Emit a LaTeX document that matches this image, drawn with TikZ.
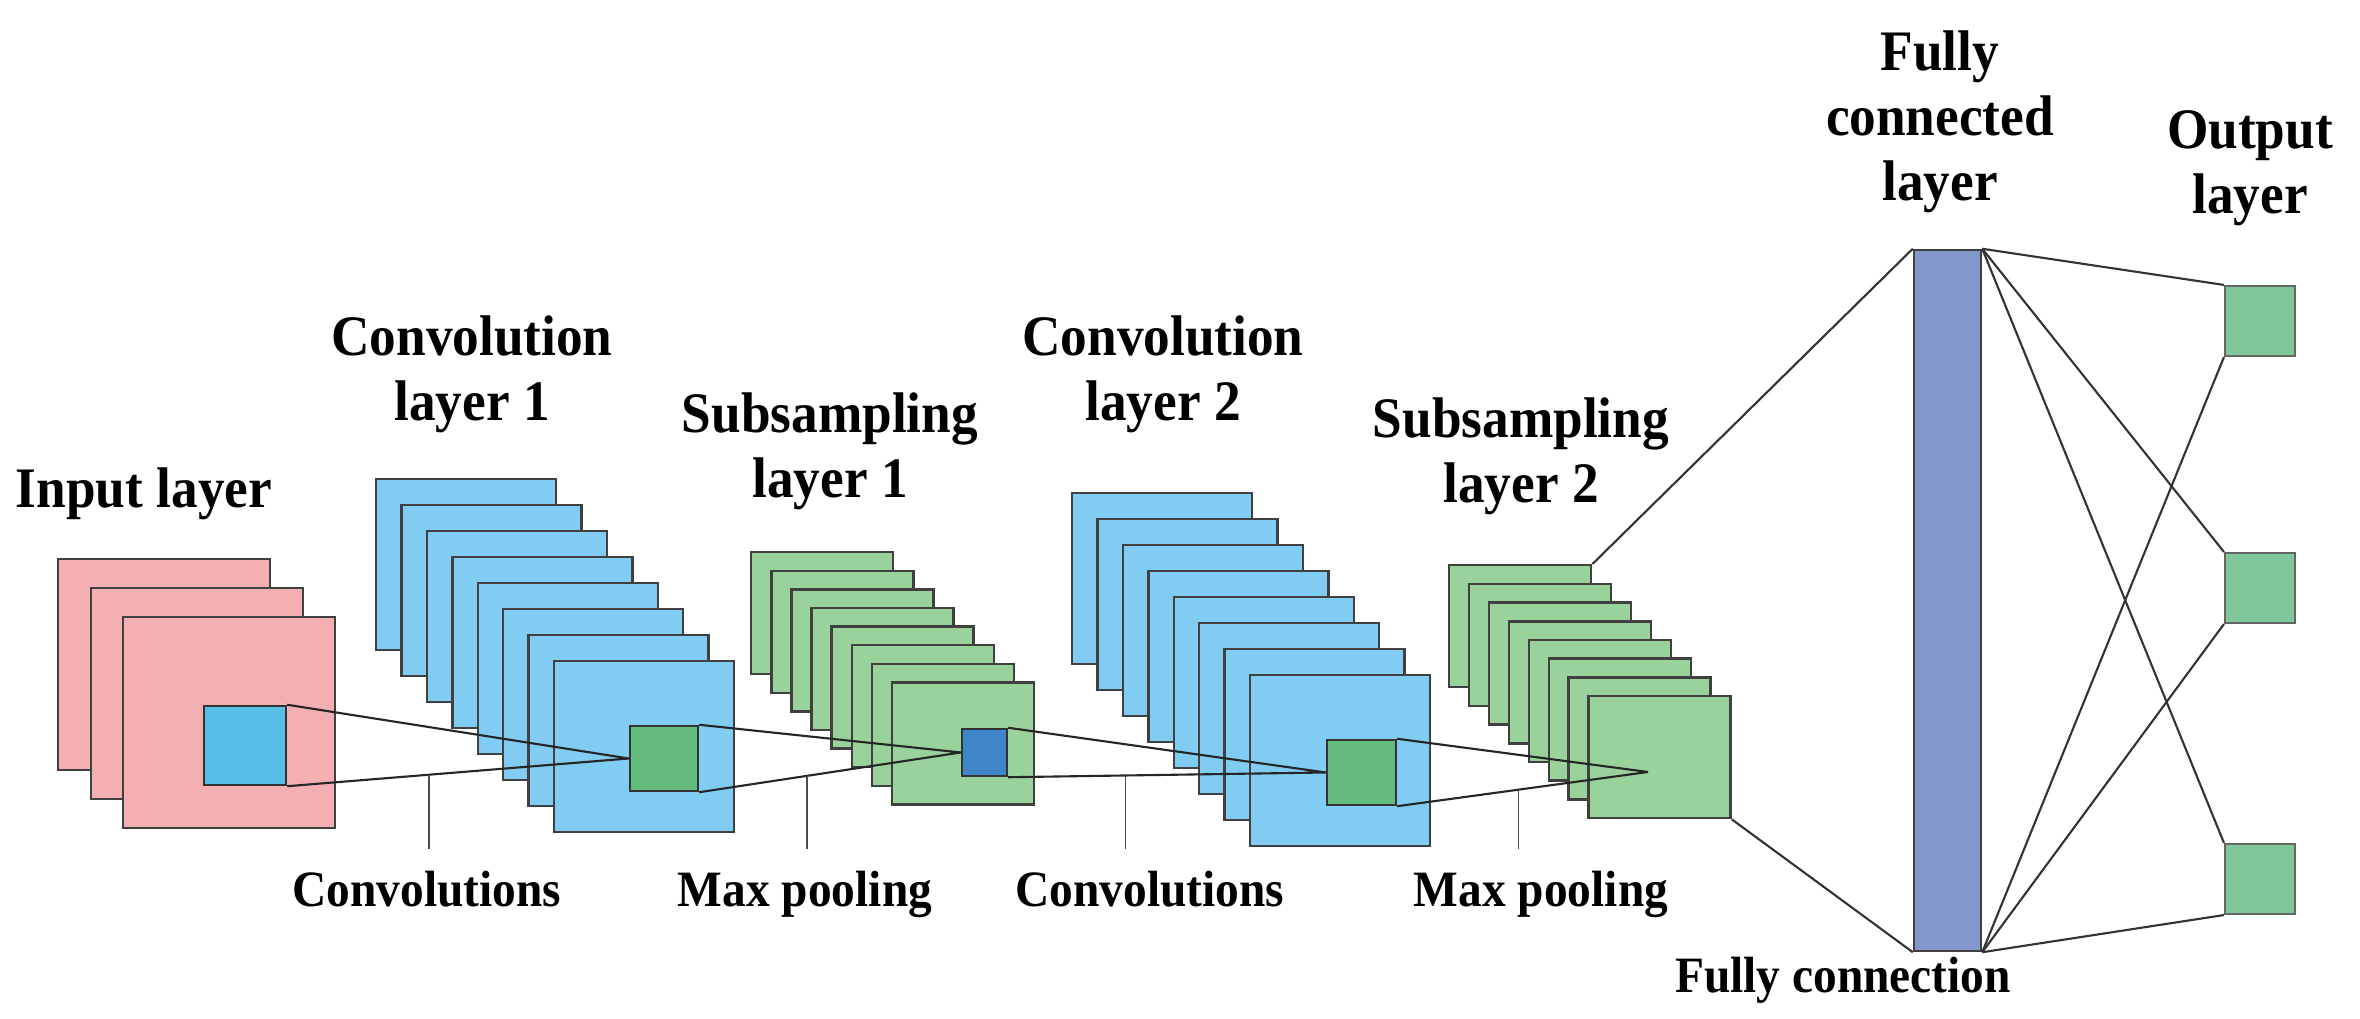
\documentclass[tikz,border=0pt]{standalone}
\usepackage{fontspec}
\setmainfont{Liberation Serif}
\newfontfamily\labelfont[FakeStretch=0.93]{Liberation Serif}
\usetikzlibrary{calc}

\definecolor{inpink}{HTML}{F3AFB2}
\definecolor{convblue}{HTML}{80CCF2}
\definecolor{kernblue}{HTML}{56BFE6}
\definecolor{poolgreen}{HTML}{99D29B}
\definecolor{kerngreen}{HTML}{66BB7E}
\definecolor{pooldark}{HTML}{3F86C8}
\definecolor{fcblue}{HTML}{8497CB}
\definecolor{outgreen}{HTML}{80C89B}

\tikzset{
  sheet/.style={draw=black!75, line width=0.7pt, anchor=north west, inner sep=0pt},
  insheet/.style={sheet, fill=inpink, minimum width=2.12cm, minimum height=2.11cm},
  convsheet/.style={sheet, fill=convblue, minimum width=1.80cm, minimum height=1.71cm},
  poolsheet/.style={sheet, fill=poolgreen, minimum width=1.42cm, minimum height=1.22cm},
  kern/.style={draw=black!80, line width=0.7pt, inner sep=0pt},
  outbox/.style={draw=black!60, line width=0.6pt, fill=outgreen, minimum size=0.70cm, inner sep=0pt},
  cone/.style={black!85, line width=0.6pt},
  tick/.style={black!70, line width=0.5pt},
  link/.style={black!80, line width=0.6pt},
  title/.style={font=\labelfont\bfseries\fontsize{16.3}{18.5}\selectfont, align=center, anchor=north, inner sep=0pt},
  opname/.style={font=\labelfont\bfseries\fontsize{14.5}{17}\selectfont, anchor=base, inner sep=0pt}
}

\begin{document}
\begin{tikzpicture}
\fill[white] (0,0) rectangle (23.6,10.19);
\useasboundingbox (0,0) rectangle (23.6,10.19);

\foreach \i in {0,1,2}
  \node[insheet] (in\i) at ({0.57+0.325*\i},{4.61-0.29*\i}) {};
\node[kern, fill=kernblue, minimum width=0.82cm, minimum height=0.79cm] (k1) at (2.45,2.735) {};

\foreach \i in {0,...,7}
  \node[convsheet] (ca\i) at ({3.75+0.254*\i},{5.41-0.26*\i}) {};
\node[kern, fill=kerngreen, minimum width=0.68cm, minimum height=0.65cm] (k2) at (6.64,2.605) {};

\foreach \i in {0,...,7}
  \node[poolsheet] (pa\i) at ({7.50+0.201*\i},{4.68-0.186*\i}) {};
\node[kern, fill=pooldark, minimum width=0.45cm, minimum height=0.47cm] (k3) at (9.845,2.665) {};

\foreach \i in {0,...,7}
  \node[convsheet] (cb\i) at ({10.71+0.254*\i},{5.27-0.26*\i}) {};
\node[kern, fill=kerngreen, minimum width=0.69cm, minimum height=0.65cm] (k4) at (13.615,2.465) {};

\foreach \i in {0,...,7}
  \node[poolsheet] (pb\i) at ({14.48+0.199*\i},{4.55-0.187*\i}) {};
\coordinate (apex) at (16.48,2.47);

\draw[cone] (k1.north east) -- (k2.west) (k1.south east) -- (k2.west);
\draw[cone] (k2.north east) -- (k3.west) (k2.south east) -- (k3.west);
\draw[cone] (k3.north east) -- (k4.west) (k3.south east) -- (k4.west);
\draw[cone] (k4.north east) -- (apex) (k4.south east) -- (apex);

\path ($(k1.south east)!0.416!(k2.west)$) coordinate (t1)
      ($(k2.south east)!0.413!(k3.west)$) coordinate (t2)
      ($(k3.south east)!0.369!(k4.west)$) coordinate (t3)
      ($(k4.south east)!0.484!(apex)$) coordinate (t4);
\foreach \t in {t1,t2,t3,t4}
  \draw[tick] (\t) -- (\t |- 0,1.70);

\node[draw=black!75, line width=0.7pt, fill=fcblue, minimum width=0.67cm, minimum height=7.01cm, inner sep=0pt] (fc) at (19.475,4.185) {};
\draw[link] (pb0.north east) -- (fc.north west);
\draw[link] (pb7.south east) -- (fc.south west);

\foreach \y [count=\n] in {6.98,4.31,1.40}
  \node[outbox] (out\n) at (22.60,\y) {};
\foreach \n in {1,2,3}
  \draw[link] (fc.north east) -- (out\n.north west) (fc.south east) -- (out\n.south west);

\node[title, anchor=base] (inlab) at (1.44,5.11) {Input layer};
\node[title] (conv1lab) at (4.72,7.04) {Convolution\\layer 1};
\node[title] (pool1lab) at (8.30,6.27) {Subsampling\\layer 1};
\node[title] (conv2lab) at (11.63,7.04) {Convolution\\layer 2};
\node[title] (pool2lab) at (15.21,6.22) {Subsampling\\layer 2};
\node[title] (fclab) at (19.40,9.89) {Fully\\connected\\layer};
\node[title] (outlab) at (22.50,9.09) {Output\\layer};

\node[opname] (op1) at (4.27,1.12) {Convolutions};
\node[opname] (op2) at (8.05,1.12) {Max pooling};
\node[opname] (op3) at (11.50,1.12) {Convolutions};
\node[opname] (op4) at (15.41,1.12) {Max pooling};
\node[opname] (op5) at (18.43,0.26) {Fully connection};
\end{tikzpicture}
\end{document}
